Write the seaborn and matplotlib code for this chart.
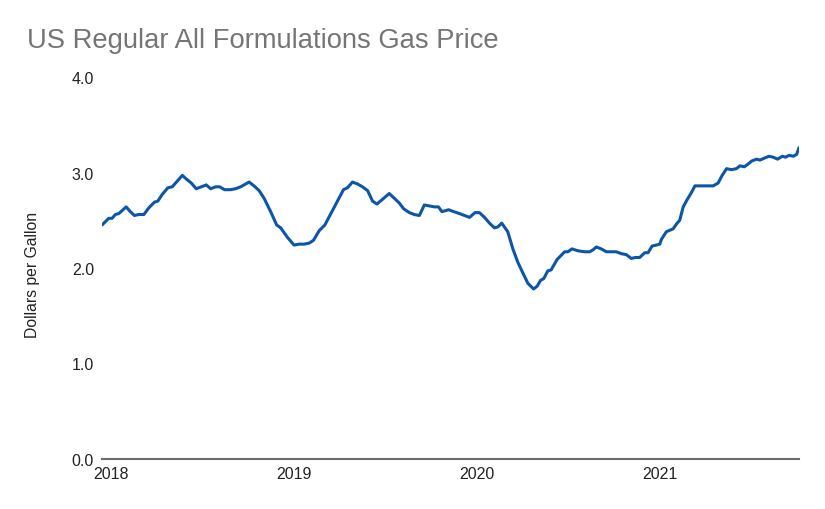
import matplotlib
matplotlib.use("Agg")
import matplotlib.pyplot as plt
import seaborn as sns
import pandas as pd

# Time as decimal year (weekly readings), price in dollars per gallon
years = [
    2017.953, 2017.990, 2018.008, 2018.026, 2018.045, 2018.085, 2018.108, 2018.130,
    2018.154, 2018.182, 2018.209, 2018.240, 2018.258, 2018.282, 2018.313, 2018.337,
    2018.360, 2018.392, 2018.415, 2018.441, 2018.468, 2018.496, 2018.523, 2018.547,
    2018.574, 2018.596, 2018.623, 2018.656, 2018.683, 2018.711, 2018.757, 2018.784,
    2018.812, 2018.839, 2018.875, 2018.908, 2018.930, 2018.967, 2019.003, 2019.031,
    2019.058, 2019.085, 2019.109, 2019.140, 2019.171, 2019.204, 2019.240, 2019.273,
    2019.295, 2019.322, 2019.350, 2019.377, 2019.405, 2019.432, 2019.456, 2019.487,
    2019.523, 2019.551, 2019.578, 2019.602, 2019.633, 2019.660, 2019.688, 2019.715,
    2019.742, 2019.770, 2019.792, 2019.811, 2019.848, 2019.876, 2019.907, 2019.934,
    2019.962, 2019.992, 2020.016, 2020.044, 2020.071, 2020.098, 2020.117, 2020.138,
    2020.171, 2020.199, 2020.226, 2020.253, 2020.281, 2020.312, 2020.332, 2020.350,
    2020.368, 2020.390, 2020.408, 2020.441, 2020.482, 2020.500, 2020.522, 2020.555,
    2020.591, 2020.619, 2020.637, 2020.655, 2020.682, 2020.710, 2020.737, 2020.764,
    2020.792, 2020.819, 2020.846, 2020.868, 2020.892, 2020.920, 2020.938, 2020.960,
    2020.983, 2021.002, 2021.011, 2021.038, 2021.075, 2021.093, 2021.111, 2021.130,
    2021.153, 2021.175, 2021.194, 2021.216, 2021.239, 2021.266, 2021.294, 2021.321,
    2021.343, 2021.367, 2021.394, 2021.421, 2021.440, 2021.464, 2021.486, 2021.504,
    2021.531, 2021.550, 2021.573, 2021.599, 2021.622, 2021.646, 2021.672, 2021.690,
    2021.708, 2021.732, 2021.750, 2021.763,
]
prices = [
    2.45, 2.52, 2.52, 2.56, 2.57, 2.64, 2.59, 2.55,
    2.56, 2.56, 2.63, 2.69, 2.70, 2.77, 2.84, 2.85,
    2.90, 2.97, 2.93, 2.89, 2.83, 2.85, 2.87, 2.83,
    2.85, 2.85, 2.82, 2.82, 2.83, 2.85, 2.90, 2.86,
    2.81, 2.73, 2.59, 2.45, 2.42, 2.32, 2.24, 2.25,
    2.25, 2.26, 2.29, 2.39, 2.45, 2.57, 2.70, 2.82,
    2.84, 2.90, 2.88, 2.85, 2.81, 2.70, 2.67, 2.72,
    2.78, 2.73, 2.68, 2.62, 2.58, 2.56, 2.55, 2.66,
    2.65, 2.64, 2.64, 2.59, 2.61, 2.59, 2.57, 2.55,
    2.53, 2.58, 2.58, 2.53, 2.47, 2.42, 2.43, 2.47,
    2.38, 2.20, 2.06, 1.95, 1.84, 1.78, 1.81, 1.87,
    1.89, 1.97, 1.98, 2.09, 2.17, 2.17, 2.20, 2.18,
    2.17, 2.17, 2.19, 2.22, 2.20, 2.17, 2.17, 2.17,
    2.15, 2.14, 2.10, 2.11, 2.11, 2.16, 2.16, 2.23,
    2.24, 2.25, 2.30, 2.38, 2.41, 2.46, 2.50, 2.64,
    2.72, 2.79, 2.86, 2.86, 2.86, 2.86, 2.86, 2.89,
    2.97, 3.04, 3.03, 3.04, 3.07, 3.06, 3.09, 3.12,
    3.14, 3.13, 3.15, 3.17, 3.16, 3.14, 3.17, 3.16,
    3.18, 3.17, 3.19, 3.26,
]
year_ticks = [2018, 2019, 2020, 2021]
year_labels = ["2018", "2019", "2020", "2021"]
price_ticks = [0.0, 1.0, 2.0, 3.0, 4.0]
price_labels = ["0.0", "1.0", "2.0", "3.0", "4.0"]

title = "US Regular All Formulations Gas Price"
ylabel = "Dollars per Gallon"

df = pd.DataFrame({"year": years, "price": prices})

sns.set_theme(style="white")
plt.rcParams["font.family"] = ["Liberation Sans", "DejaVu Sans"]

fig = plt.figure(figsize=(8.25, 5.10), dpi=100)
ax = fig.add_axes([102 / 825, 50 / 510, 697 / 825, 382 / 510])

sns.lineplot(data=df, x="year", y="price", ax=ax, color="#0b56a8",
             linewidth=2.2, estimator=None, sort=False)

ax.set_xlim(years[0], years[-1])
ax.set_ylim(0, 4)
ax.set_xticks(year_ticks)
ax.set_xticklabels(year_labels)
ax.set_yticks(price_ticks)
ax.set_yticklabels(price_labels)
ax.tick_params(axis="both", length=0, labelsize=11.5, labelcolor="#222222")
ax.tick_params(axis="y", pad=5.8)
ax.tick_params(axis="x", pad=5.0)
ax.set_xlabel("")
ax.set_ylabel(ylabel, fontsize=11.3, color="#222222")
ax.yaxis.set_label_coords(-0.089, 0.485)
ax.grid(False)

for side in ["top", "right", "left"]:
    ax.spines[side].set_visible(False)
ax.spines["bottom"].set_color("#6b6b6b")
ax.spines["bottom"].set_linewidth(1.5)

fig.text(27 / 825, 1 - 48 / 510, title, fontsize=19.7, color="#757575",
         ha="left", va="baseline")

fig.savefig("out.png", dpi=100, facecolor="white")
